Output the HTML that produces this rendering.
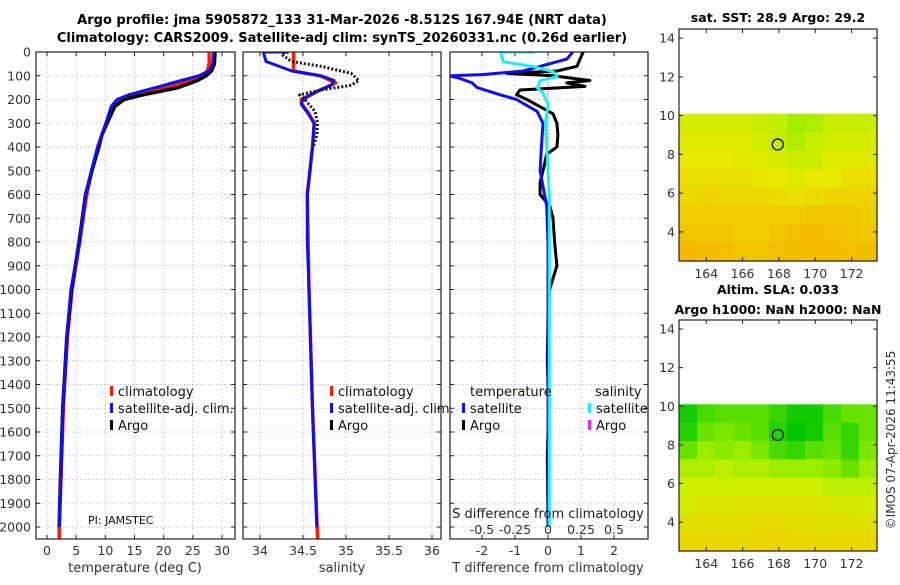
<!DOCTYPE html>
<html><head><meta charset="utf-8">
<style>
body{margin:0;background:#fff;width:900px;height:580px;overflow:hidden;font-family:"Liberation Sans","DejaVu Sans",sans-serif}
svg text{font-family:"DejaVu Sans","Liberation Sans",sans-serif}
</style></head>
<body>
<svg id="fig" width="900" height="580" viewBox="0 0 900 580" xmlns="http://www.w3.org/2000/svg">
<text x="342" y="24" text-anchor="middle" font-size="13" font-weight="bold">Argo profile: jma 5905872_133 31-Mar-2026 -8.512S 167.94E (NRT data)</text>
<text x="342" y="42" text-anchor="middle" font-size="13" font-weight="bold">Climatology: CARS2009. Satellite-adj clim: synTS_20260331.nc (0.26d earlier)</text>
<text x="778" y="22" text-anchor="middle" font-size="12.5" font-weight="bold">sat. SST: 28.9 Argo: 29.2</text>
<text x="778" y="294" text-anchor="middle" font-size="12.5" font-weight="bold">Altim. SLA: 0.033</text>
<text x="778" y="314" text-anchor="middle" font-size="12.5" font-weight="bold">Argo h1000: NaN h2000: NaN</text>
<text transform="translate(895,440) rotate(-90)" text-anchor="middle" font-size="12" fill="#333">©IMOS 07-Apr-2026 11:43:55</text>
<g id="g"></g>
</svg>
<script>
// ---- data ----
const depthsT = [0,50,80,100,120,150,180,200,230,300,400,500,600,800,1000,1200,1500,1800,2000];
const tempClim = [27.8,27.8,27.5,26.5,24.5,20.3,15,12.8,11.2,10.1,8.7,7.7,6.8,5.6,4.3,3.5,2.8,2.4,2.1];
const tempSat  = [28.5,28.4,27.8,26,23,18.6,14,12,11,10.1,8.7,7.6,6.6,5.6,4.1,3.4,2.7,2.3,2.1];
const depthsArgoT = [0,50,80,100,120,150,180,200,230,300,350,400,500,600,800,1000,1200,1500,1800,2000];
const tempArgo = [28.8,28.7,28.2,27.3,25.8,22.5,16.5,13.2,11.6,10.3,9.4,8.9,7.7,6.6,5.5,4.2,3.4,2.7,2.3,2.1];

const depthsS = [0,0,40,80,100,120,140,170,200,220,260,300,400,500,600,800,1000,1500,2000];
const salSat = [34.33,34.04,34.07,34.37,34.71,34.86,34.83,34.64,34.5,34.48,34.56,34.63,34.61,34.58,34.55,34.55,34.57,34.61,34.66];
const depthsSc = [0,80,100,130,160,200,215,260,300,400,600,1000,1500,2050];
const salClim = [34.39,34.39,34.7,34.88,34.7,34.48,34.48,34.57,34.63,34.61,34.55,34.57,34.61,34.67];
const depthsSa = [0,10,40,60,90,120,140,160,180,200,250,300,350,400];
const salArgo = [34.33,34.25,34.37,34.71,35.06,35.15,35.06,34.71,34.46,34.52,34.64,34.67,34.66,34.62];

const depthsDT = [0,30,80,95,100,110,130,150,180,200,250,300,400,500,650,800,1000,1500,2000];
const dTSat = [0.75,0.57,-0.75,-2,-3,-2.7,-2.3,-2.15,-1.45,-0.95,-0.33,-0.15,-0.2,-0.24,-0.04,0,0,0,0];
const depthsDA = [0,30,60,80,90,100,120,130,145,160,180,200,230,260,300,350,400,430,500,550,600,650,700,800,900,1000,1100,1300,1500,1700,2000];
const dTArgo = [1.07,0.97,0.88,0.27,-1.25,0.15,1.27,0.57,1.12,-0.85,-0.95,-0.64,-0.25,0.15,0.27,0.3,0.27,-0.04,-0.15,-0.24,-0.24,0.06,0.15,0.2,0.27,0.05,0,-0.02,0.02,-0.02,0];
const depthsDS = [0,0,41,62,83,104,120,151,172,220,300,600,1000,1500,2000];
const dSSat = [-0.1,-0.36,-0.34,-0.11,0.04,0.07,-0.06,-0.08,-0.04,0,-0.02,0.01,0.01,0.01,0.01];

const depthTicks = [0,100,200,300,400,500,600,700,800,900,1000,1100,1200,1300,1400,1500,1600,1700,1800,1900,2000];
const tTicks = [0,5,10,15,20,25,30];
const sTicks = [34,34.5,35,35.5,36];
const sTickLabels = ["34","34.5","35","35.5","36"];
const dTTicks = [-2,-1,0,1,2];
const dSTicks = [-0.5,-0.25,0,0.25,0.5];
const dSTickLabels = ["-0.5","-0.25","0","0.25","0.5"];
const lonTicks = [164,166,168,170,172];
const latTicks = [4,6,8,10,12,14];
const argoLon = 167.94, argoLat = 8.512;

// map grids: rows from lat 10.1 down to 2.5, columns lon 162.5 -> 173.4 (0=green .. 1=orange)
const sstGrid = [
[.45,.45,.45,.45,.42,.35,.3,.32,.42,.4,.38],
[.5,.5,.5,.5,.45,.38,.32,.38,.45,.45,.45],
[.55,.55,.55,.52,.5,.45,.4,.42,.5,.5,.52],
[.6,.6,.6,.6,.56,.55,.5,.55,.55,.6,.6],
[.65,.66,.65,.64,.64,.62,.6,.62,.66,.66,.66],
[.7,.72,.7,.7,.7,.7,.72,.76,.75,.74,.7],
[.76,.76,.75,.72,.72,.76,.78,.8,.78,.76,.74],
[.82,.8,.78,.76,.76,.78,.8,.8,.8,.78,.8]];
const slaGrid = [
[.05,.2,.25,.25,.25,.15,.05,.05,.2,.3,.3],
[.1,.3,.35,.3,.25,.1,0,.05,.25,.15,.3],
[.3,.45,.4,.45,.35,.2,.15,.25,.3,.15,.35],
[.5,.5,.55,.5,.5,.45,.45,.45,.4,.3,.45],
[.6,.6,.6,.6,.6,.62,.62,.6,.55,.55,.55],
[.65,.7,.68,.7,.7,.72,.72,.7,.68,.66,.65],
[.74,.76,.74,.76,.78,.78,.76,.74,.74,.74,.72],
[.8,.82,.8,.8,.82,.82,.8,.8,.8,.8,.8]];

// ---- drawing ----
const NS='http://www.w3.org/2000/svg';
const G=document.getElementById('g');
function mk(tag,at,parent){const e=document.createElementNS(NS,tag);for(const k in at)e.setAttribute(k,at[k]);(parent||G).appendChild(e);return e;}
const top0=52, bot=539;
const yD=d=>top0+d*0.2375;
const P1={l:36,r:235}, P2={l:243,r:441}, P3={l:450,r:648};
const xT=v=>47+v*5.833;
const xS=v=>260+(v-34)*86;
const xDT=v=>548+v*33;
const xDS=v=>548+v*132;

function panelGrid(P,ticks,xf,name){
  const grp=mk('g',{});
  
  
  ticks.forEach(t=>mk('line',{x1:xf(t),x2:xf(t),y1:top0,y2:bot,stroke:'#b8c4e0','stroke-width':0.8,'stroke-dasharray':'2,2'},grp));
  depthTicks.forEach(d=>{mk('line',{x1:P.l,x2:P.r,y1:yD(d),y2:yD(d),stroke:'#b8c4e0','stroke-width':0.8,'stroke-dasharray':'2,2'},grp);
    mk('line',{x1:P.l,x2:P.l+4,y1:yD(d),y2:yD(d),stroke:'#222'},grp);mk('line',{x1:P.r-4,x2:P.r,y1:yD(d),y2:yD(d),stroke:'#222'},grp);});
  ticks.forEach(t=>{mk('line',{x1:xf(t),x2:xf(t),y1:bot-4,y2:bot,stroke:'#222'},grp);mk('line',{x1:xf(t),x2:xf(t),y1:top0,y2:top0+4,stroke:'#222'},grp);});
}
function frame(P,name){const r=mk('rect',{x:P.l,y:top0,width:P.r-P.l,height:bot-top0,fill:'none',stroke:'#222','stroke-width':1.2});
  }
function tickLabels(ticks,labels,xf,y,name){ticks.forEach((t,i)=>{const e=mk('text',{x:xf(t),y:y,'text-anchor':'middle','font-size':12.5,fill:'#333'});e.textContent=labels?labels[i]:String(t);
  });}
function line(xs,ds,xf,color,w,name,clip,dash){
  const p=xs.map((v,i)=>(i?'L':'M')+xf(v).toFixed(1)+','+yD(ds[i]).toFixed(1)).join('');
  const at={d:p,fill:'none',stroke:color,'stroke-width':w,'stroke-linejoin':'round'};
  if(clip)at['clip-path']='url(#'+clip+')';
  if(dash)at['stroke-dasharray']=dash;
  const e=mk('path',at);return e;}
function txt(s,x,y,size,name,anchor,fill){const e=mk('text',{x:x,y:y,'font-size':size,'text-anchor':anchor||'start',fill:fill||'#111'});e.textContent=s;
  return e;}
function legMark(x,y,c,name){const e=mk('rect',{x:x,y:y-10,width:3,height:10,fill:c});}

const defs=mk('defs',{});
[['c1',P1],['c2',P2],['c3',P3]].forEach(([id,P])=>{const c=mk('clipPath',{id:id},defs);mk('rect',{x:P.l,y:top0,width:P.r-P.l,height:bot-top0},c);});

// panel 1
panelGrid(P1,tTicks,xT,'temperature-panel');
line(tempClim.concat([2.1]),depthsT.concat([2050]),xT,'#ff1a00',3.5,'temperature-climatology-line','c1');
line(tempArgo,depthsArgoT,xT,'#000',3.5,'temperature-argo-line','c1');
line(tempSat,depthsT,xT,'#1010ee',3,'temperature-satellite-line','c1');
frame(P1,'temperature-panel');
tickLabels(tTicks,null,xT,555,'temperature-x');
depthTicks.forEach(d=>{const e=txt(String(d),31,yD(d)+4.5,12.5,'depth-tick-label','end','#333');});
txt('temperature (deg C)',135,572,13,'temperature-axis-title','middle','#333');
legMark(110,396,'#ff1a00','legend-climatology-marker');txt('climatology',118,396,13,'legend-climatology');
legMark(110,413,'#1010ee','legend-satellite-marker');txt('satellite-adj. clim.',118,413,13,'legend-satellite');
legMark(110,430,'#000','legend-argo-marker');txt('Argo',118,430,13,'legend-argo');
txt('PI: JAMSTEC',88,524,11,'pi-label');

// panel 2
panelGrid(P2,sTicks,xS,'salinity-panel');
line(salClim,depthsSc,xS,'#ff1a00',3.5,'salinity-climatology-line','c2');
line(salSat,depthsS,xS,'#1010ee',3,'salinity-satellite-line','c2');
line(salArgo,depthsSa,xS,'#111',3,'salinity-argo-line','c2','2,2');
frame(P2,'salinity-panel');
tickLabels(sTicks,sTickLabels,xS,555,'salinity-x');
txt('salinity',342,572,13,'salinity-axis-title','middle','#333');
legMark(330,396,'#ff1a00','legend2-climatology-marker');txt('climatology',338,396,13,'legend2-climatology');
legMark(330,413,'#1010ee','legend2-satellite-marker');txt('satellite-adj. clim.',338,413,13,'legend2-satellite');
legMark(330,430,'#000','legend2-argo-marker');txt('Argo',338,430,13,'legend2-argo');

// panel 3
panelGrid(P3,dTTicks,xDT,'difference-panel');
mk('line',{x1:548,x2:548,y1:top0,y2:bot,stroke:'#555','stroke-width':0.8,'stroke-dasharray':'1,2'});
line(dTArgo,depthsDA,xDT,'#000',3,'tdiff-argo-line','c3');
line(dTSat,depthsDT,xDT,'#1010ee',3,'tdiff-satellite-line','c3');
line(dSSat,depthsDS,xDS,'#22eef0',3,'sdiff-satellite-line','c3');
frame(P3,'difference-panel');
dSTicks.forEach(t=>mk('line',{x1:xDS(t),x2:xDS(t),y1:bot-4,y2:bot,stroke:'#222'}));
tickLabels(dTTicks,null,xDT,555,'tdiff-x');
tickLabels(dSTicks,dSTickLabels,xDS,534,'sdiff-x');
txt('S difference from climatology',548,518,13,'sdiff-axis-title','middle','#222');
txt('T difference from climatology',548,572,13,'tdiff-axis-title','middle','#333');
txt('temperature',470,396,13,'legend3-temperature-heading');
legMark(462,413,'#1010ee','legend3-tsat-marker');txt('satellite',470,413,13,'legend3-tsat');
legMark(462,430,'#000','legend3-targo-marker');txt('Argo',470,430,13,'legend3-targo');
txt('salinity',595,396,13,'legend3-salinity-heading');
legMark(588,413,'#22eef0','legend3-ssat-marker');txt('satellite',596,413,13,'legend3-ssat');
legMark(588,430,'#ee22ee','legend3-sargo-marker');txt('Argo',596,430,13,'legend3-sargo');

// maps
function cmap(v,stops){for(let i=1;i<stops.length;i++){if(v<=stops[i][0]){const a=stops[i-1],b=stops[i],f=(v-a[0])/(b[0]-a[0]);
  return 'rgb('+[0,1,2].map(k=>Math.round(a[1][k]+(b[1][k]-a[1][k])*f)).join(',')+')';}}const s=stops[stops.length-1][1];return 'rgb('+s.join(',')+')';}
const sstStops=[[0,[0,205,0]],[0.35,[190,240,0]],[0.55,[232,232,0]],[0.85,[245,180,0]]];
const slaStops=[[0,[0,200,0]],[0.4,[140,235,0]],[0.6,[205,240,0]],[0.85,[240,210,0]]];
function drawMap(M,grid,stops,name){
  const xL=v=>M.l+(v-162.5)*(M.r-M.l)/(173.4-162.5);
  const yL=v=>M.t+(14.47-v)*(M.b-M.t)/(14.47-2.5);
  const grp=mk('g',{});
  const rows=grid.length,cols=grid[0].length;
  const y0=yL(10.1),y1=M.b,x0=M.l,x1=M.r;
  grid.forEach((row,i)=>row.forEach((v,j)=>{
    mk('rect',{x:x0+(x1-x0)*j/cols,y:y0+(y1-y0)*i/rows,width:(x1-x0)/cols+0.6,height:(y1-y0)/rows+0.6,fill:cmap(v,stops)},grp);}));
  const c=mk('circle',{cx:xL(argoLon),cy:yL(argoLat),r:5.5,fill:'none',stroke:'#000','stroke-width':1.2});
  
  mk('rect',{x:M.l,y:M.t,width:M.r-M.l,height:M.b-M.t,fill:'none',stroke:'#222','stroke-width':1.2});
  lonTicks.forEach(t=>{mk('line',{x1:xL(t),x2:xL(t),y1:M.b,y2:M.b-4,stroke:'#222'});mk('line',{x1:xL(t),x2:xL(t),y1:M.t,y2:M.t+4,stroke:'#222'});
    txt(String(t),xL(t),M.b+17,12.5,name+'-lon-tick-label','middle','#333');});
  latTicks.forEach(t=>{mk('line',{x1:M.l,x2:M.l+4,y1:yL(t),y2:yL(t),stroke:'#222'});mk('line',{x1:M.r-4,x2:M.r,y1:yL(t),y2:yL(t),stroke:'#222'});
    txt(String(t),M.l-4,yL(t)+4.5,12.5,name+'-lat-tick-label','end','#333');});
}
drawMap({l:679,r:877,t:29,b:261},sstGrid,sstStops,'sst-map');
drawMap({l:679,r:877,t:320,b:551},slaGrid,slaStops,'sla-map');
</script>
</body></html>
